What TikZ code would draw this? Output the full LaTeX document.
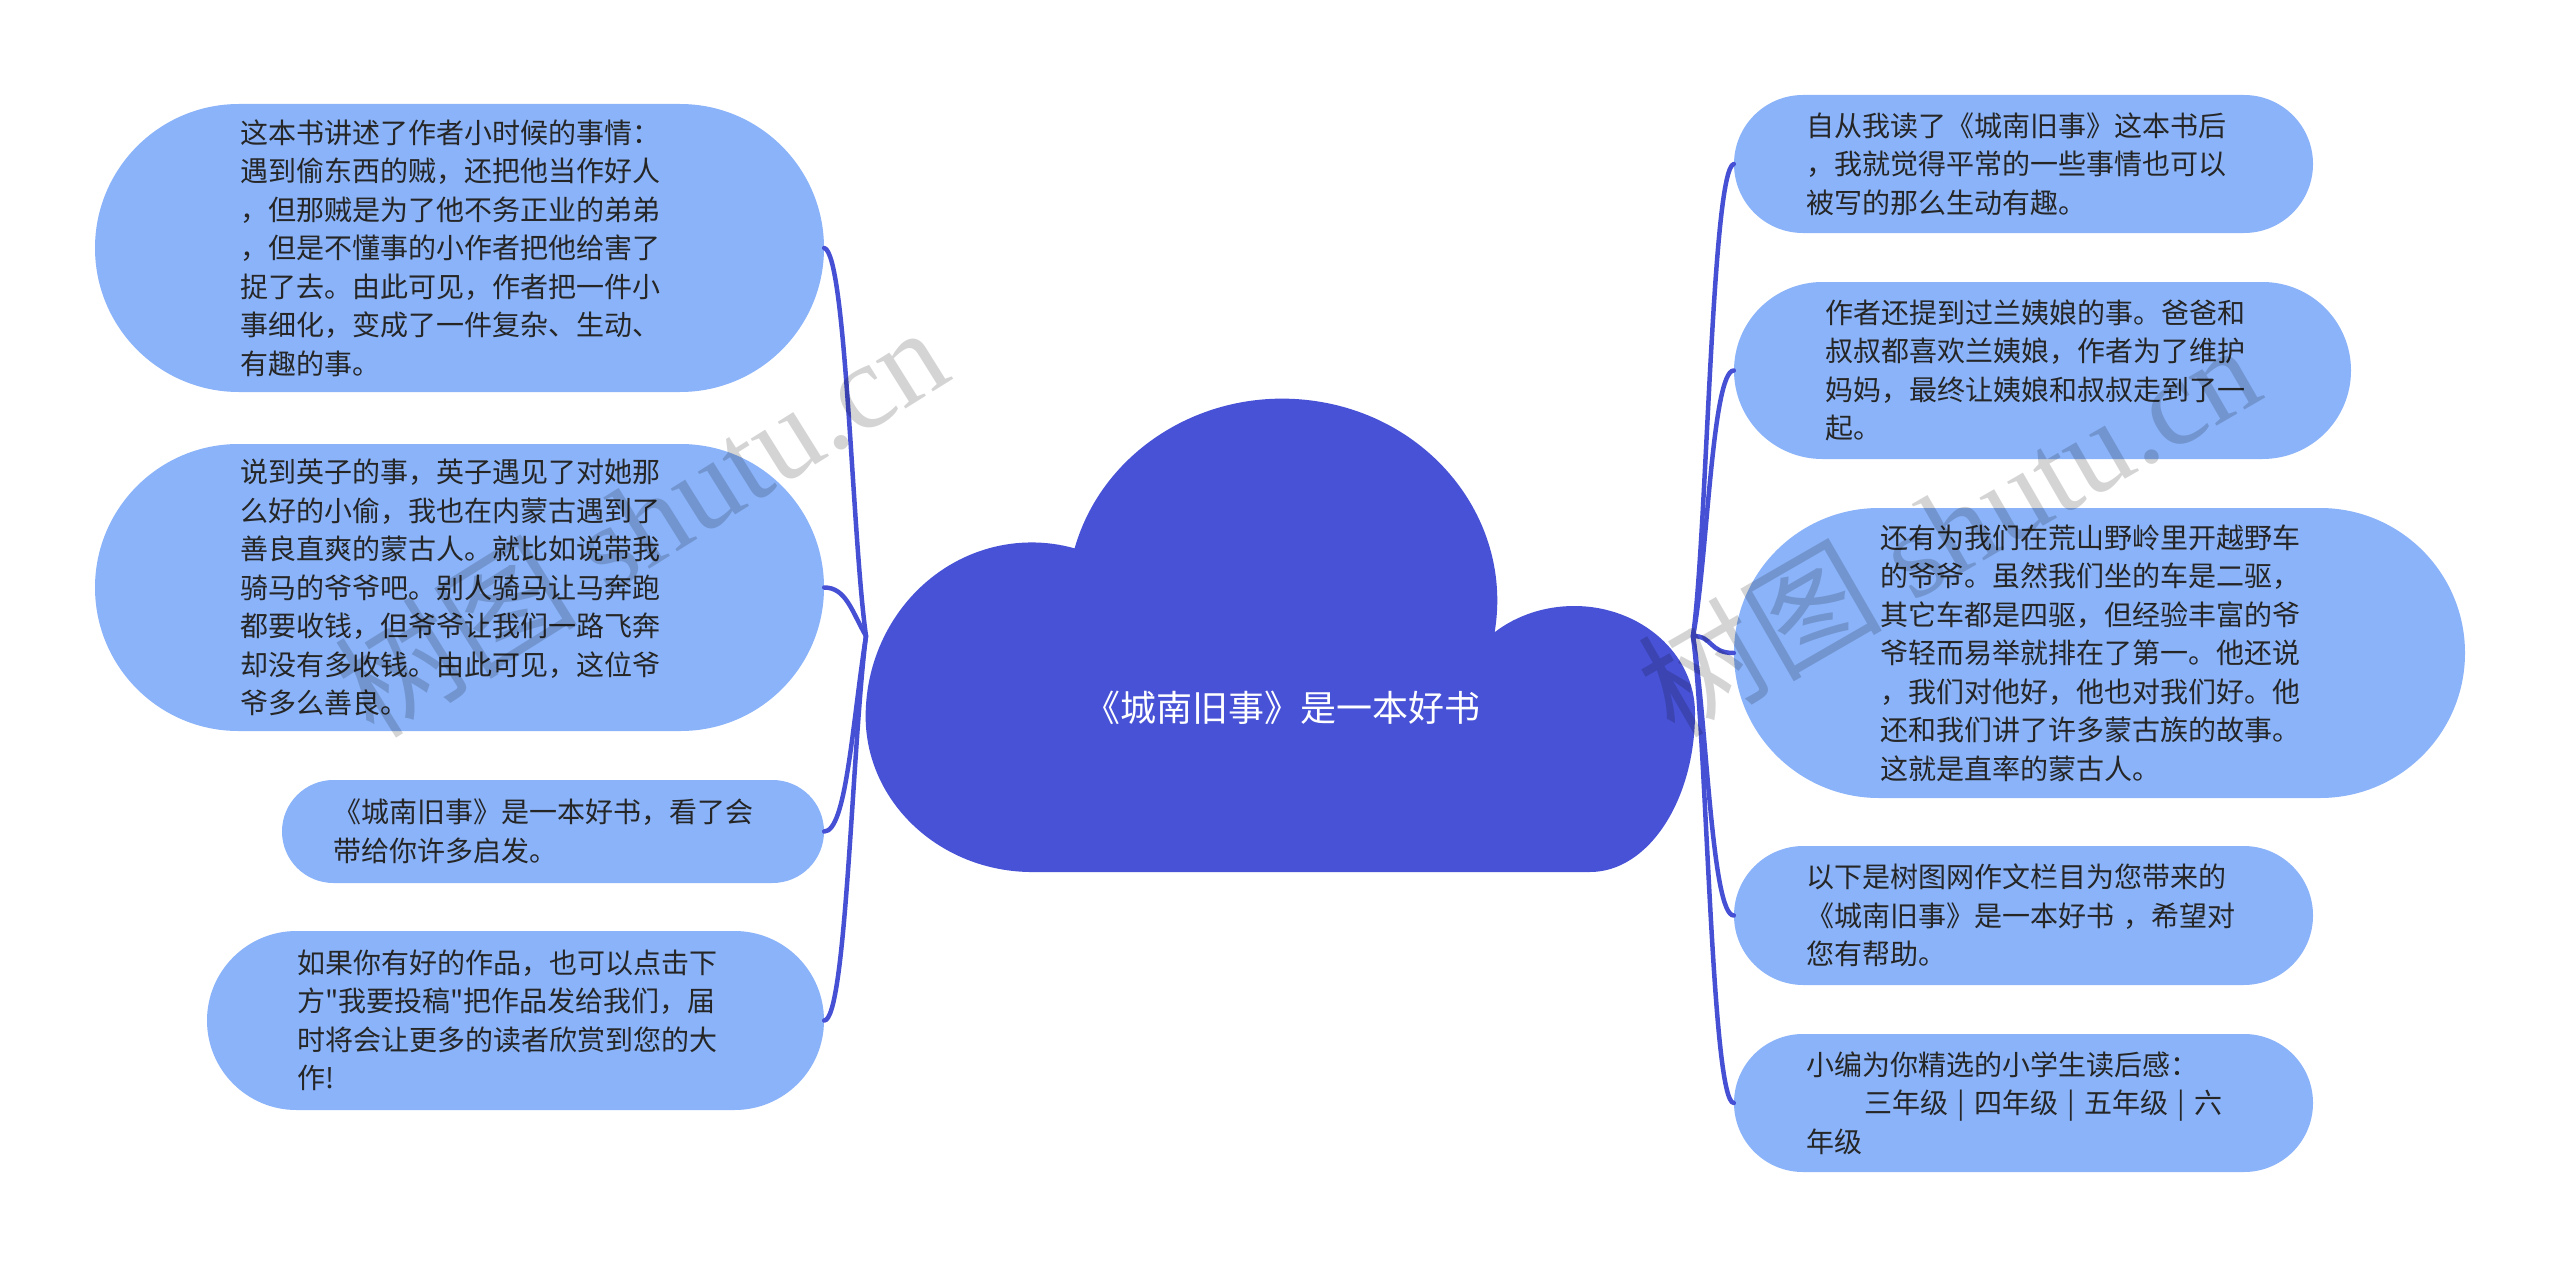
\documentclass[tikz,border=0pt]{standalone}
\usepackage{fontspec}
\setmainfont{Noto Sans CJK SC}
\newfontfamily\wmlatin{Liberation Serif}
\newfontfamily\wmcjk{Noto Sans CJK SC}
\newcommand\sq{{\wmcjk"}}
\definecolor{leafblue}{HTML}{8AB3F9}
\definecolor{cloudblue}{HTML}{4752D6}
\definecolor{linkblue}{HTML}{4650D5}
\definecolor{txtdark}{HTML}{262626}
\newcommand\lfnt{\fontsize{28pt}{38.5pt}\selectfont}
\begin{document}
\begin{tikzpicture}[x=1pt,y=1pt,
  leaf/.style={fill=leafblue, draw=none, text=txtdark, align=left, inner sep=0pt, font=\lfnt},
  link/.style={draw=linkblue, line width=4.5pt, line cap=round},
  wm/.style={text=black, text opacity=0.17, inner sep=0pt}]
\useasboundingbox (0,0) rectangle (2560,-1271);
\fill[white] (0,0) rectangle (2560,-1271);

% cloud
\fill[cloudblue] (1032.5,-872) -- (1590,-872)
  arc[start angle=-90, end angle=0, x radius=105pt, y radius=159pt]
  arc[start angle=0, end angle=131, x radius=121pt, y radius=107pt]
  arc[start angle=-9, end angle=165, x radius=215pt, y radius=202pt]
  arc[start angle=75, end angle=180, x radius=166pt, y radius=174pt]
  arc[start angle=180, end angle=270, x radius=167pt, y radius=155.6pt]
  -- cycle;
\node[text=white, font=\fontsize{36pt}{40pt}\selectfont, inner sep=0pt] (root) at (1282,-708) {《城南旧事》是一本好书};

\coordinate (ML) at (866,-636);
\coordinate (MR) at (1693,-636);

% left leaves
\node[leaf, minimum width=729pt, minimum height=288pt, rounded corners=144pt, text width=439pt] (L1) at (459.5,-248) {这本书讲述了作者小时候的事情：\\遇到偷东西的贼，还把他当作好人\\，但那贼是为了他不务正业的弟弟\\，但是不懂事的小作者把他给害了\\捉了去。由此可见，作者把一件小\\事细化，变成了一件复杂、生动、\\有趣的事。};
\node[leaf, minimum width=729pt, minimum height=287pt, rounded corners=143.5pt, text width=439pt] (L2) at (459.5,-587.5) {说到英子的事，英子遇见了对她那\\么好的小偷，我也在内蒙古遇到了\\善良直爽的蒙古人。就比如说带我\\骑马的爷爷吧。别人骑马让马奔跑\\都要收钱，但爷爷让我们一路飞奔\\却没有多收钱。由此可见，这位爷\\爷多么善良。};
\node[leaf, minimum width=542pt, minimum height=103pt, rounded corners=51.5pt, text width=440pt] (L3) at (553,-831.5) {《城南旧事》是一本好书，看了会\\带给你许多启发。};
\node[leaf, minimum width=617pt, minimum height=179pt, rounded corners=89.5pt, text width=437pt] (L4) at (515.5,-1020.5) {如果你有好的作品，也可以点击下\\方\sq 我要投稿\sq 把作品发给我们，届\\时将会让更多的读者欣赏到您的大\\作!};

% right leaves
\node[leaf, minimum width=579pt, minimum height=138pt, rounded corners=69pt, text width=435pt] (R1) at (2023.5,-164) {自从我读了《城南旧事》这本书后\\，我就觉得平常的一些事情也可以\\被写的那么生动有趣。};
\node[leaf, minimum width=617pt, minimum height=177pt, rounded corners=88.5pt, text width=435pt] (R2) at (2042.5,-370.5) {作者还提到过兰姨娘的事。爸爸和\\叔叔都喜欢兰姨娘，作者为了维护\\妈妈，最终让姨娘和叔叔走到了一\\起。};
\node[leaf, minimum width=731pt, minimum height=290pt, rounded corners=145pt, text width=439pt] (R3) at (2099.5,-653) {还有为我们在荒山野岭里开越野车\\的爷爷。虽然我们坐的车是二驱，\\其它车都是四驱，但经验丰富的爷\\爷轻而易举就排在了第一。他还说\\，我们对他好，他也对我们好。他\\还和我们讲了许多蒙古族的故事。\\这就是直率的蒙古人。};
\node[leaf, minimum width=579pt, minimum height=139pt, rounded corners=69.5pt, text width=435pt] (R4) at (2023.5,-915.5) {以下是树图网作文栏目为您带来的\\《城南旧事》是一本好书 ，希望对\\您有帮助。};
\node[leaf, minimum width=579pt, minimum height=138pt, rounded corners=69pt, text width=435pt] (R5) at (2023.5,-1103) {小编为你精选的小学生读后感：\\\hspace*{58pt}三年级 | 四年级 | 五年级 | 六\\年级};

% connectors
\draw[link] (L1.east) .. controls +(22,-5) and +(-14,100) .. (ML);
\draw[link] (L2.east) .. controls +(22,0) and +(-14,24) .. (ML);
\draw[link] (L3.east) .. controls +(22,0) and +(-14,-90) .. (ML);
\draw[link] (L4.east) .. controls +(22,0) and +(-14,-110) .. (ML);
\draw[link] (R1.west) .. controls +(-22,-5) and +(14,100) .. (MR);
\draw[link] (R2.west) .. controls +(-22,0) and +(14,70) .. (MR);
\draw[link] (R3.west) .. controls +(-25,0) and +(20,0) .. (MR);
\draw[link] (R4.west) .. controls +(-22,0) and +(14,-90) .. (MR);
\draw[link] (R5.west) .. controls +(-22,0) and +(14,-110) .. (MR);

% watermarks
\node[wm, rotate=32] (wmL) at (640,-520) {\fontsize{122pt}{126pt}\selectfont\wmcjk 树图\wmlatin{} shutu.cn};
\node[wm, rotate=30] (wmR) at (1948,-528) {\fontsize{122pt}{126pt}\selectfont\wmcjk 树图\wmlatin{} shutu.cn};
\end{tikzpicture}
\end{document}
